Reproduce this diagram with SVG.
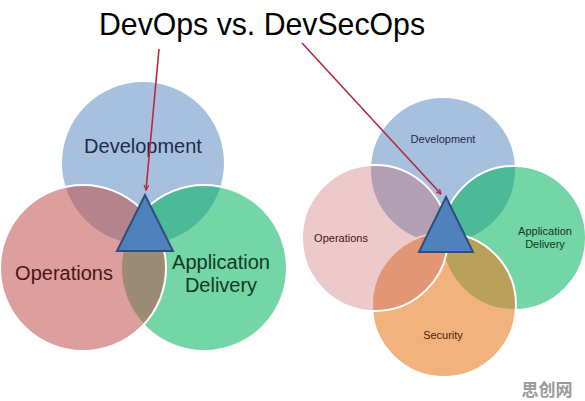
<svg xmlns="http://www.w3.org/2000/svg" width="585" height="401" viewBox="0 0 585 401">
<defs>
<style>
.t{font-family:"Liberation Sans",Arial,sans-serif;text-anchor:middle}
.c{stroke:#ffffff;stroke-width:2}
.dev{fill:#4f81bd;fill-opacity:0.5}
.ops{fill:#c0504d;fill-opacity:0.55}
.app{fill:#02b35d;fill-opacity:0.55}
.ops2{fill:#c86064;fill-opacity:0.34}
.sec{fill:#e97f28;fill-opacity:0.6}
.tri{fill:#4f81bd;stroke:#2f4f7a;stroke-width:2;stroke-linejoin:miter}
.arr{stroke:#b8283e;stroke-width:1.6;fill:none;marker-end:url(#ah)}
</style>
<marker id="ah" viewBox="0 0 10 10" refX="9" refY="5" markerWidth="6" markerHeight="6" orient="auto" markerUnits="userSpaceOnUse">
<path d="M1,1 L9,5 L1,9" fill="none" stroke="#b8283e" stroke-width="2"/>
</marker>
</defs>
<rect width="585" height="401" fill="#ffffff"/>
<text class="t" x="262" y="35" font-size="32" fill="#000000" textLength="326" lengthAdjust="spacingAndGlyphs">DevOps vs. DevSecOps</text>

<g id="left-development"><circle class="c dev" cx="143" cy="163" r="82"/></g>
<g id="left-application-delivery"><circle class="c app" cx="204" cy="268" r="83"/></g>
<g id="left-operations"><circle class="c ops" cx="83" cy="268" r="83"/></g>
<g id="left-triangle"><polygon class="tri" points="145,195 117,251 173,251"/></g>
<g id="left-labels">
<text class="t" x="143" y="153" font-size="20" fill="#1c2c4a">Development</text>
<text class="t" x="64" y="280" font-size="20" fill="#4a1414">Operations</text>
<text class="t" x="221" y="269" font-size="20" fill="#0e3a22">Application</text>
<text class="t" x="221" y="292" font-size="20" fill="#0e3a22">Delivery</text>
</g>

<g id="right-development"><circle class="c dev" cx="443" cy="170" r="73"/></g>
<g id="right-application-delivery"><circle class="c app" cx="514" cy="238" r="72"/></g>
<g id="right-security"><circle class="c sec" cx="444" cy="305" r="72"/></g>
<g id="right-operations"><circle class="c ops2" cx="375" cy="238" r="73"/></g>
<g id="right-triangle"><polygon class="tri" points="446,197 419,252 473,252"/></g>
<g id="right-labels">
<text class="t" x="443" y="143" font-size="11" fill="#1c2c4a">Development</text>
<text class="t" x="341" y="242" font-size="11" fill="#4a1414">Operations</text>
<text class="t" x="545" y="235" font-size="11" fill="#0e3a22">Application</text>
<text class="t" x="545" y="248" font-size="11" fill="#0e3a22">Delivery</text>
<text class="t" x="443" y="339" font-size="11" fill="#4a1e08">Security</text>
</g>

<g id="connectors">
<line class="arr" x1="159" y1="49" x2="146" y2="190"/>
<line class="arr" x1="302" y1="43" x2="441" y2="194"/>
</g>

<text x="547" y="396" font-family="'Noto Sans CJK SC',sans-serif" font-weight="bold" font-size="17" fill="#9a9a9a" text-anchor="middle">思创网</text>
</svg>
